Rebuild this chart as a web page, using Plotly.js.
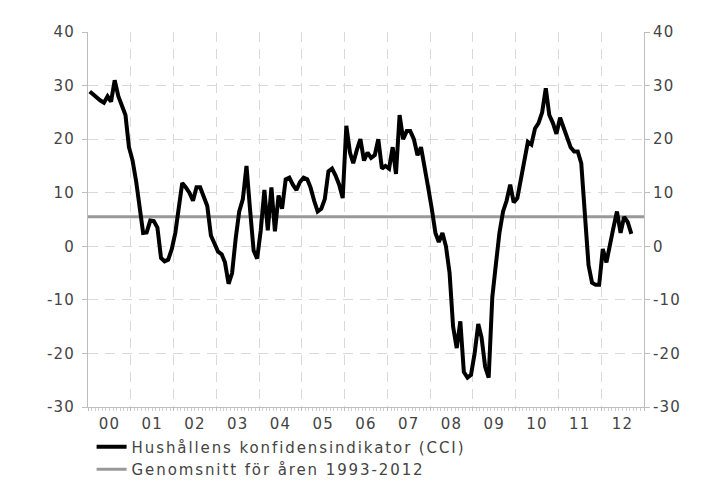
<!DOCTYPE html>
<html>
<head>
<meta charset="utf-8">
<script src="https://cdn.plot.ly/plotly-3.0.1.min.js"></script>
<style>
html,body{margin:0;padding:0;background:#fff;}
#chart{width:710px;height:492px;}
#chart .legendtext{letter-spacing:1.9px;}
#chart .legend .scrollbox{clip-path:none !important;}
#chart .xtick text, #chart .ytick text, #chart .y2tick text{letter-spacing:1.2px;}
</style>
</head>
<body>
<div id="chart"></div>
<script>
// Monthly values of the consumer confidence indicator, per year
const cci2000 = [28.9, 28.3, 27.8, 27.2, 26.8, 28.0, 27.0, 31.0, 28.0, 26.5, 24.5, 18.5];
const cci2001 = [16, 12, 7, 2.5, 2.6, 4.8, 4.7, 3.5, -2.2, -2.8, -2.5, -0.6];
const cci2002 = [2.5, 7, 11.8, 11, 10, 8.5, 11, 11, 9, 7.5, 2, 0.7];
const cci2003 = [-1, -1.5, -3, -7, -5, 1.5, 6.5, 8.8, 15, 7, -0.8, -2.3];
const cci2004 = [3, 10.5, 3, 11, 2.8, 9.5, 7, 12.5, 12.8, 11.5, 10.5, 12];
const cci2005 = [12.8, 12.5, 11, 8.5, 6.5, 7, 8.8, 14, 14.5, 13.2, 11.5, 9];
const cci2006 = [22.5, 17.5, 15.5, 18, 20, 16, 17.5, 16.5, 17, 20, 14.5, 15];
const cci2007 = [14.5, 18.5, 13.5, 24.5, 20, 21.5, 21.5, 20, 17, 18.5, 15, 11];
const cci2008 = [7, 2.5, 0.8, 2.5, 0, -5, -15, -19, -14, -23.5, -24.5, -24];
const cci2009 = [-20, -14.5, -17, -22.5, -24.5, -9.5, -3.5, 2.5, 6.5, 8.5, 11.5, 8.2];
const cci2010 = [9, 13, 16.5, 19.5, 19, 22, 23, 25, 29.5, 24.5, 23, 21];
const cci2011 = [24, 22, 20, 18.5, 17.7, 17.7, 15.5, 6.5, -3.5, -6.8, -7.2, -7.2];
const cci2012 = [-0.5, -3, 0.5, 3.5, 6.5, 2.5, 5.5, 4.5, 2.3];
const years = [2000, 2001, 2002, 2003, 2004, 2005, 2006, 2007, 2008, 2009, 2010, 2011, 2012];
const average = 5.5; // Genomsnitt 1993-2012
const seriesNames = ["Hushållens konfidensindikator (CCI)", "Genomsnitt för åren 1993-2012"];
const xRange = ["1999-12-31", "2013-01-01"];
const yTickVals = [-30, -20, -10, 0, 10, 20, 30, 40];
const yTickText = ["-30", "-20", "-10", "0", "10", "20", "30", "40"];

const perYear = [cci2000, cci2001, cci2002, cci2003, cci2004, cci2005, cci2006, cci2007, cci2008, cci2009, cci2010, cci2011, cci2012];
const dates = [], values = [];
perYear.forEach((arr, yi) => {
  arr.forEach((v, m) => {
    dates.push(years[yi] + "-" + String(m + 1).padStart(2, "0") + "-15");
    values.push(v);
  });
});

const font = "DejaVu Sans, Verdana, sans-serif";
const tickFont = {family: font, size: 15, color: "#444"};
const axisCommon = {
  range: [-30, 40], tickmode: "array", tickvals: yTickVals, ticktext: yTickText,
  showline: true, linecolor: "#bdbdbd", linewidth: 1,
  ticks: "outside", ticklen: 5, tickcolor: "#bdbdbd",
  zeroline: false, tickfont: tickFont, fixedrange: true
};

const data = [
  {x: dates, y: values, type: "scatter", mode: "lines", name: seriesNames[0],
   line: {color: "#000", width: 4}, yaxis: "y2", hoverinfo: "x+y"},
  {x: xRange, y: [average, average], type: "scatter", mode: "lines", name: seriesNames[1],
   line: {color: "#999", width: 3}, yaxis: "y"}
];

const layout = {
  width: 710, height: 492,
  margin: {l: 88, r: 66, t: 32, b: 85, autoexpand: false},
  paper_bgcolor: "#fff", plot_bgcolor: "#fff",
  font: {family: font, color: "#444"},
  showlegend: true,
  legend: {
    xref: "container", yref: "container",
    x: 0.129, y: 0.125, xanchor: "left", yanchor: "top",
    font: {family: font, size: 15, color: "#444"},
    tracegroupgap: 0, itemwidth: 30, bgcolor: "rgba(0,0,0,0)"
  },
  xaxis: {
    type: "date", range: xRange, dtick: "M12", tick0: "2000-01-01",
    ticklabelmode: "period", tickformat: "%y", tickangle: 0,
    showgrid: true, gridcolor: "#d9d9d9", griddash: "10px,7px",
    showline: true, linecolor: "#bdbdbd",
    ticks: "outside", ticklen: 3, tickcolor: "#bdbdbd",
    minor: {dtick: "M1", ticks: "outside", ticklen: 3, tickcolor: "#cfcfcf", showgrid: false},
    tickfont: tickFont, fixedrange: true
  },
  yaxis: Object.assign({}, axisCommon, {
    side: "left", showgrid: true, gridcolor: "#d9d9d9", griddash: "10px,7px",
    ticklabelstandoff: 4
  }),
  yaxis2: Object.assign({}, axisCommon, {
    side: "right", overlaying: "y", showgrid: false
  })
};

Plotly.newPlot("chart", data, layout, {displayModeBar: false, staticPlot: true});
</script>
</body>
</html>
